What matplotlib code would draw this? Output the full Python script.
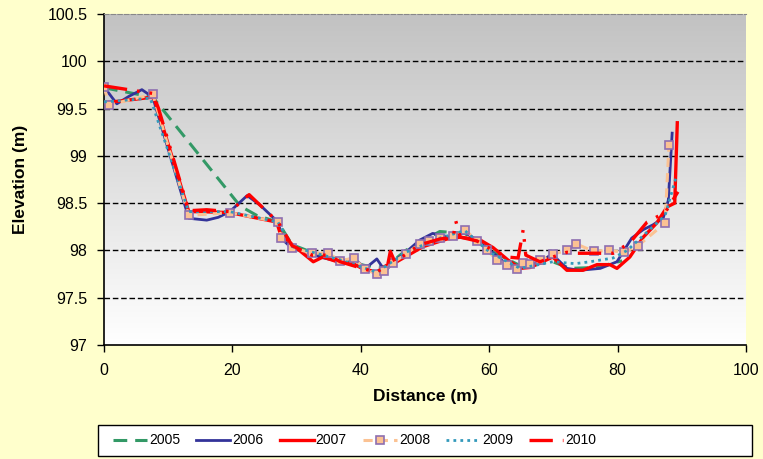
import numpy as np
import matplotlib.pyplot as plt
from matplotlib.colors import LinearSegmentedColormap
from matplotlib.patches import Rectangle

plt.rcParams['font.family'] = ['Liberation Sans', 'DejaVu Sans']

# cross-section survey, one profile per year
x_2005 = [0, 7.6, 21.2, 23.8, 27.1, 29.3, 32.4, 36.8, 40.7, 43.8, 47.0, 52.3, 56.2,
          60.1, 64.8, 69.9, 72.6, 76.8, 80.7]
z_2005 = [99.72, 99.62, 98.47, 98.37, 98.30, 98.06, 97.98, 97.90, 97.84, 97.82, 98.00,
          98.20, 98.18, 98.00, 97.84, 97.88, 97.81, 97.82, 97.89]

x_2006 = [0, 2.0, 3.9, 5.9, 7.6, 13.2, 16.0, 17.8, 19.6, 22.3, 24.3, 27.1, 27.9, 29.3,
          32.4, 33.6, 36.8, 38.9, 40.7, 42.5, 43.8, 45.0, 47.0, 49.2, 51.2, 53.9, 56.2,
          58.1, 60.1, 62.8, 64.8, 67.9, 69.8, 72.1, 74.1, 77.3, 79.9, 82.2, 84.0, 85.5,
          87.1, 87.9, 88.5]
z_2006 = [99.73, 99.55, 99.63, 99.70, 99.62, 98.34, 98.32, 98.35, 98.41, 98.58, 98.48,
          98.30, 98.11, 98.02, 97.97, 97.93, 97.88, 97.92, 97.81, 97.91, 97.78, 97.87,
          97.98, 98.11, 98.18, 98.14, 98.19, 98.11, 98.00, 97.85, 97.81, 97.88, 97.96,
          97.81, 97.79, 97.81, 97.88, 98.13, 98.22, 98.27, 98.34, 98.53, 99.24]

x_2007 = [0, 7.5, 7.9, 13.2, 15.0, 19.6, 26.9, 27.4, 29.0, 30.8, 32.6, 34.1, 35.0, 36.8,
          38.8, 40.2, 42.5, 43.5, 44.2, 45.6, 49.7, 53.4, 55.5, 58.6, 60.6, 62.9, 64.8,
          66.4, 69.9, 72.1, 74.6, 76.8, 78.8, 79.9, 81.9, 84.0, 86.1, 87.7, 88.9, 89.3]
z_2007 = [99.56, 99.62, 99.59, 98.41, 98.41, 98.40, 98.30, 98.19, 98.08, 97.98, 97.88,
          97.93, 97.91, 97.87, 97.86, 97.81, 97.77, 97.82, 97.85, 97.88, 98.04, 98.12,
          98.14, 98.11, 98.03, 97.90, 97.81, 97.82, 97.93, 97.79, 97.79, 97.85, 97.85,
          97.81, 97.93, 98.14, 98.29, 98.46, 98.50, 99.35]

x_2008 = [0, 0.8, 7.6, 13.2, 19.6, 27.1, 27.6, 29.3, 32.4, 34.9, 36.8, 38.9, 40.7, 42.5,
          43.6, 45.0, 47.0, 49.2, 50.6, 52.3, 54.4, 56.2, 58.1, 59.7, 61.2, 62.8, 64.3,
          65.3, 66.4, 67.9, 69.9, 72.1, 73.5, 76.3, 78.7, 81.0, 83.2, 87.4, 88.0]
z_2008 = [99.73, 99.54, 99.65, 98.37, 98.40, 98.30, 98.13, 98.03, 97.97, 97.97, 97.89,
          97.92, 97.80, 97.75, 97.78, 97.87, 97.96, 98.07, 98.10, 98.13, 98.15, 98.22,
          98.10, 98.00, 97.90, 97.85, 97.80, 97.87, 97.86, 97.90, 97.96, 98.00, 98.07,
          97.99, 98.00, 97.98, 98.05, 98.29, 99.11]

x_2009 = [0, 7.2, 13.2, 19.6, 27.1, 29.3, 36.8, 42.5, 47.0, 52.3, 56.2, 60.1, 64.8,
          69.9, 73.4, 75.7, 79.3, 81.5, 85.0, 87.4, 89.1]
z_2009 = [99.57, 99.61, 98.41, 98.41, 98.30, 98.04, 97.90, 97.77, 97.98, 98.13, 98.21,
          97.98, 97.81, 97.88, 97.86, 97.88, 97.92, 98.00, 98.22, 98.37, 98.77]

x_2010 = [0, 7.6, 8.5, 13.2, 16.0, 19.6, 22.6, 24.6, 27.1, 29.3, 32.4, 34.9, 36.8, 40.7,
          42.5, 44.2, 44.6, 45.3, 49.2, 52.3, 54.4, 54.8, 55.5, 58.1, 60.6, 62.8, 64.5,
          65.3, 65.7, 67.9, 69.9, 72.1, 73.7, 76.3, 79.3, 81.9, 84.6, 87.4, 89.4]
z_2010 = [99.74, 99.66, 99.50, 98.42, 98.43, 98.41, 98.59, 98.46, 98.30, 98.05, 97.95,
          97.95, 97.88, 97.80, 97.77, 97.85, 97.99, 97.88, 98.06, 98.12, 98.14, 98.31,
          98.14, 98.10, 98.00, 97.93, 97.92, 98.22, 97.95, 97.88, 97.93, 97.98, 97.97,
          97.97, 97.97, 98.08, 98.30, 98.40, 98.62]

fig = plt.figure(figsize=(7.63, 4.59), dpi=100, facecolor='#FFFFCC')
ax = fig.add_axes([0.1363, 0.2484, 0.8414, 0.7211])

# grey-to-white gradient behind the plot
grad = LinearSegmentedColormap.from_list('bg', ['#FFFFFF', '#C2C2C2'])
ax.imshow(np.linspace(0, 1, 256).reshape(-1, 1), cmap=grad, origin='lower',
          extent=[0, 1, 0, 1], transform=ax.transAxes, aspect='auto', zorder=0)

for yv in [97.5, 98, 98.5, 99, 99.5, 100]:
    ax.axhline(yv, color='black', lw=1, ls=(0, (4, 2)), zorder=1)

ax.plot(x_2005, z_2005, color='#339966', lw=2.2, ls=(0, (4.5, 2.6)), label='2005', zorder=2)
ax.plot(x_2006, z_2006, color='#333399', lw=2.0, label='2006', zorder=3)
ax.plot(x_2007, z_2007, color='#FF0000', lw=2.4, label='2007', zorder=4)
ax.plot(x_2008, z_2008, color='#FBC293', lw=2.2, ls=(0, (3, 2)), marker='s', ms=5.5,
        mfc='#FBC293', mec='#8E6FB0', mew=1.2, label='2008', zorder=5)
ax.plot(x_2009, z_2009, color='#3399BB', lw=2.0, ls=(0, (1, 1.5)), label='2009', zorder=6)
ax.plot(x_2010, z_2010, color='#FF0000', lw=2.4, ls=(0, (7, 3, 0.8, 3, 0.8, 3)),
        label='2010', zorder=7)

ax.set_xlim(0, 100)
ax.set_ylim(97, 100.5)
ax.set_xticks(np.arange(0, 101, 20))
ax.set_yticks(np.arange(97, 100.51, 0.5))
ax.set_yticklabels(['97', '97.5', '98', '98.5', '99', '99.5', '100', '100.5'])
ax.tick_params(labelsize=11.5, length=5, width=1, direction='out', colors='black')
ax.tick_params(axis='y', pad=7)
ax.tick_params(axis='x', pad=8)
ax.spines['right'].set_visible(False)
ax.spines['top'].set_color('#888888')
ax.spines['top'].set_linestyle((0, (4, 2)))
ax.spines['left'].set_linewidth(1.2)
ax.spines['bottom'].set_linewidth(1.2)

ax.set_xlabel('Distance (m)', fontsize=12.5, fontweight='bold', labelpad=8)
ax.set_ylabel('Elevation (m)', fontsize=12.5, fontweight='bold', labelpad=14)

# legend box across the bottom, entries packed from the left
fig.patches.append(Rectangle((0.128, 0.0065), 0.858, 0.068, transform=fig.transFigure,
                             facecolor='white', edgecolor='black', lw=1.0, zorder=0))
fig.legend(loc='center left', bbox_to_anchor=(0.141, 0.0405), ncol=6, fontsize=10,
           frameon=False, numpoints=1, handlelength=2.45, handletextpad=0.15,
           columnspacing=1.15, borderaxespad=0)

fig.savefig('out.png', dpi=100, facecolor=fig.get_facecolor())
